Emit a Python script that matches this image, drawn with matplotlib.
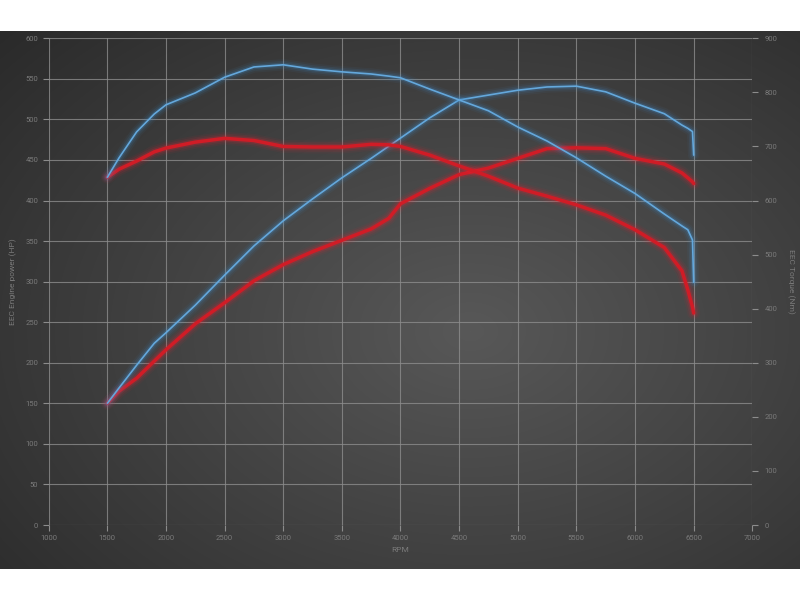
import numpy as np
import matplotlib
matplotlib.use('Agg')
import matplotlib.pyplot as plt

rpm = [1500, 1600, 1750, 1900, 2000, 2250, 2500, 2750, 3000, 3250, 3500, 3750, 3900, 4000,
       4250, 4500, 4750, 5000, 5250, 5500, 5750, 6000, 6250, 6400, 6450, 6490, 6500]

# blue run
blue_hp = [150, 169, 197, 224, 237, 271, 308, 344, 375, 402, 428, 452, 467, 477,
           502, 524, 530, 536, 540, 541, 534, 520, 507, 493, 489, 485, 456]
blue_nm = [643, 679, 727, 760, 777, 799, 828, 847, 851, 843, 838, 834, 830, 827,
           806, 786, 766, 736, 710, 679, 645, 613, 575, 553, 546, 527, 449]

# red run
red_hp = [150, 165, 181, 202, 216, 248, 274, 301, 321, 337, 351, 365, 378, 396,
          415, 432, 440, 452, 464, 465, 464, 452, 445, 434, 428, 423, 421]
red_nm = [643, 658, 673, 690, 697, 708, 715, 711, 700, 699, 699, 704, 703, 700,
          684, 664, 645, 623, 608, 592, 573, 546, 513, 470, 435, 403, 392]

hp_ticks = list(range(0, 601, 50))
nm_ticks = list(range(0, 901, 100))
rpm_ticks = list(range(1000, 7001, 500))

plt.rcParams['font.family'] = ['Roboto', 'DejaVu Sans']
txt = '#7a7a7a'
gridc = '#8c8c8c'

fig = plt.figure(figsize=(8, 6), dpi=100)
fig.patch.set_facecolor('white')

# dark radial background band
bg = fig.add_axes([0, 31 / 600, 1, 538 / 600])
bg.axis('off')
yy, xx = np.mgrid[0:538, 0:800]
r = np.sqrt(((xx - 470) / 470.0) ** 2 + ((yy - 300) / 330.0) ** 2) / np.sqrt(2)
v = np.clip(88 - 48 * r, 40, 90) / 255.0
bg.imshow(np.dstack([v, v, v]), aspect='auto', extent=[0, 1, 0, 1])

ax = fig.add_axes([48.7 / 800, 1 - 525 / 600, (752.3 - 48.7) / 800, (525 - 38.3) / 600])
ax.patch.set_alpha(0)
ax.set_xlim(1000, 7000)
ax.set_ylim(0, 600)
ax.set_xticks(rpm_ticks)
ax.set_yticks(hp_ticks)
for s in ax.spines.values():
    s.set_visible(False)
ax.grid(True, color=gridc, lw=0.8, alpha=0.8)
ax.tick_params(colors=gridc, labelcolor=txt, labelsize=5.5, length=4, width=0.8)
ax.set_xlabel('RPM', color=txt, fontsize=6, labelpad=4)
ax.set_ylabel('EEC Engine power (HP)', color=txt, fontsize=6, labelpad=6)

ax2 = ax.twinx()
ax2.set_ylim(0, 900)
ax2.set_yticks(nm_ticks)
for s in ax2.spines.values():
    s.set_visible(False)
ax2.tick_params(colors=gridc, labelcolor=txt, labelsize=5.5, length=4, width=0.8, pad=5)
ax2.set_ylabel('EEC Torque (Nm)', color=txt, fontsize=6, rotation=270, labelpad=12)


def glow(a, x, y, core, halo, lw):
    for w, al in [(lw + 7, 0.06), (lw + 4.5, 0.10), (lw + 2, 0.2)]:
        a.plot(x, y, color=halo, lw=w, alpha=al, solid_capstyle='round', solid_joinstyle='round')
    a.plot(x, y, color=core, lw=lw, solid_capstyle='round', solid_joinstyle='round')


glow(ax, rpm, red_hp, '#d01c26', '#e82232', 2.5)
glow(ax2, rpm, red_nm, '#d01c26', '#e82232', 2.5)
glow(ax, rpm, blue_hp, '#64a8dc', '#3f8fd0', 1.2)
glow(ax2, rpm, blue_nm, '#64a8dc', '#3f8fd0', 1.2)

fig.savefig('out.png', dpi=100, facecolor='white')
